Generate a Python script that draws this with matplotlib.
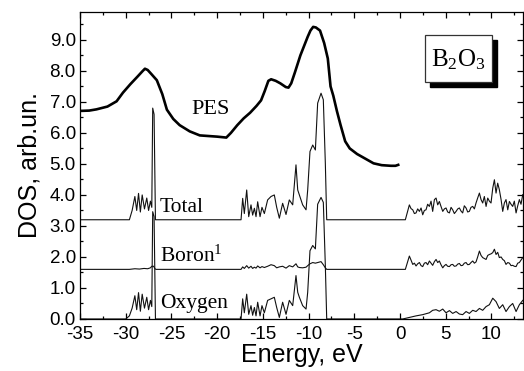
import matplotlib
matplotlib.use('Agg')
import matplotlib.pyplot as plt
from matplotlib.patches import Rectangle
from matplotlib.ticker import MultipleLocator, FormatStrFormatter

plt.rcParams['axes.unicode_minus'] = False
plt.rcParams['mathtext.fontset'] = 'custom'
plt.rcParams['mathtext.rm'] = 'Liberation Serif'
plt.rcParams['mathtext.it'] = 'Liberation Serif'

# PES spectrum
e_pes = [-35.0, -34.0, -33.2, -32.0, -31.0, -30.3, -29.5, -28.7, -28.2, -27.9, -27.6, -27.2,
         -26.6, -26.0, -25.5, -24.8, -24.1, -23.0, -21.9, -20.0, -19.0, -18.5, -17.8, -17.1,
         -16.4, -15.7, -15.2, -14.8, -14.4, -14.1, -13.6, -13.1, -12.5, -12.2, -11.9,
         -11.5, -10.9, -10.5, -10.1, -9.8, -9.5, -9.2, -8.75, -8.3, -7.9, -7.6, -7.3, -6.9,
         -6.5, -6.0, -5.5, -4.7, -3.8, -2.9, -2.0, -1.0, -0.5, -0.2]
pes = [6.71, 6.72, 6.76, 6.85, 7.02, 7.3, 7.57, 7.82, 7.98, 8.07, 8.03, 7.9,
       7.7, 7.25, 6.75, 6.45, 6.25, 6.05, 5.92, 5.88, 5.85, 6.0, 6.25, 6.47,
       6.65, 6.87, 7.05, 7.35, 7.68, 7.73, 7.68, 7.6, 7.48, 7.46, 7.6,
       7.95, 8.5, 8.8, 9.1, 9.3, 9.42, 9.4, 9.3, 8.9, 8.4, 7.5, 7.2, 6.7,
       6.25, 5.73, 5.5, 5.32, 5.17, 5.02, 4.96, 4.94, 4.94, 4.97]

# shared energies of the valence (upper) band
e_vb = [-17.39, -17.21, -17.03, -16.77, -16.55, -16.30, -16.12, -15.93, -15.75, -15.57,
        -15.31, -15.10, -14.84, -14.48, -14.11, -13.75, -13.49, -13.20, -12.84, -12.47,
        -12.11, -11.74, -11.38, -11.19, -11.01, -10.65, -10.28, -10.10, -9.85, -9.55,
        -9.26, -9.01, -8.64, -8.39, -8.17, -8.02]
# shared energies of the conduction band
e_cb = [0.58, 1.02, 1.2, 1.39, 1.57, 1.75, 1.93, 2.12, 2.3, 2.48, 2.66, 2.84, 3.02, 3.21,
        3.39, 3.57, 3.76, 3.94, 4.12, 4.30, 4.48, 4.67, 4.85, 5.03, 5.21, 5.40, 5.58, 5.76,
        5.94, 6.13, 6.31, 6.49, 6.67, 6.85, 7.03, 7.22, 7.40, 7.58, 7.76, 7.95, 8.13, 8.31,
        8.49, 8.68, 8.86, 9.04, 9.22, 9.41, 9.59, 9.77, 9.95, 10.14, 10.32, 10.50, 10.68,
        10.86, 11.05, 11.23, 11.41, 11.59, 11.78, 11.96, 12.14, 12.32, 12.50, 12.69, 12.87,
        13.05, 13.23, 13.42]

# Total DOS
e_tot_low = [-35.0, -29.6, -29.3, -29.0, -28.8, -28.6, -28.4, -28.2, -27.95, -27.7, -27.5,
             -27.3, -27.15, -27.05, -26.9, -26.75]
tot_low = [0, 0, 0.3, 0.75, 0.3, 0.85, 0.25, 0.8, 0.35, 0.7, 0.3, 0.6, 0.4, 3.6, 3.4, 0]
tot_vb = [0, 0.69, 0.2, 0.96, 0.1, 0.48, 0.15, 0.37, 0.1, 0.58, 0.1, 0.4, 0.2, 0.64, 0.75,
          0.8, 0.4, 0.05, 0.53, 0.17, 0.64, 0.48, 1.77, 0.96, 0.8, 0.48, 0.32, 0.96, 2.2,
          2.41, 2.25, 3.76, 4.08, 3.87, 1.82, 0]
tot_cb = [0, 0.48, 0.36, 0.32, 0.2, 0.22, 0.35, 0.27, 0.38, 0.16, 0.3, 0.32, 0.5, 0.43,
          0.6, 0.27, 0.65, 0.7, 0.48, 0.59, 0.43, 0.27, 0.35, 0.38, 0.25, 0.22, 0.4, 0.32,
          0.2, 0.27, 0.35, 0.38, 0.28, 0.22, 0.45, 0.38, 0.25, 0.27, 0.4, 0.43, 0.35, 0.54,
          0.7, 0.86, 0.65, 0.54, 0.75, 0.43, 0.7, 0.6, 0.54, 1.02, 1.29, 0.86, 1.18, 0.97,
          0.65, 0.27, 0.54, 0.65, 0.32, 0.59, 0.5, 0.43, 0.6, 0.22, 0.45, 0.65, 0.5, 0.81]

# Boron partial DOS
e_bor_low = [-35.0, -29.6, -29.0, -28.5, -28.0, -27.6, -27.3, -27.15, -26.95, -26.8, -26.7]
bor_low = [0, 0, 0.02, 0.01, 0.03, 0.02, 0.05, 0.1, 0.1, 0.02, 0]
bor_vb = [0, 0.08, 0.03, 0.12, 0.04, 0.1, 0.03, 0.07, 0.04, 0.11, 0.05, 0.09, 0.06, 0.1,
          0.15, 0.12, 0.05, 0.08, 0.1, 0.04, 0.12, 0.08, 0.18, 0.08, 0.06, 0.05, 0.07, 0.12,
          0.18, 0.22, 0.2, 0.22, 0.25, 0.15, 0.05, 0]
bor_cb = [0, 0.43, 0.3, 0.16, 0.2, 0.11, 0.18, 0.22, 0.12, 0.09, 0.2, 0.22, 0.15, 0.27,
          0.2, 0.13, 0.25, 0.32, 0.22, 0.27, 0.15, 0.05, 0.12, 0.16, 0.1, 0.09, 0.15, 0.16,
          0.1, 0.11, 0.17, 0.19, 0.12, 0.13, 0.2, 0.22, 0.15, 0.16, 0.22, 0.27, 0.2, 0.24,
          0.4, 0.59, 0.45, 0.38, 0.35, 0.32, 0.45, 0.48, 0.5, 0.54, 0.65, 0.48, 0.55, 0.38,
          0.4, 0.32, 0.28, 0.16, 0.22, 0.2, 0.12, 0.13, 0.1, 0.09, 0.2, 0.22, 0.3, 0.38]

# Oxygen partial DOS
e_oxy_low = [-35.0, -30.0, -29.6, -29.3, -29.0, -28.8, -28.6, -28.4, -28.2, -27.95, -27.7,
             -27.5, -27.3, -27.15, -27.05, -26.9, -26.75]
oxy_low = [0, 0, 0.1, 0.35, 0.75, 0.3, 0.85, 0.25, 0.8, 0.35, 0.7, 0.3, 0.6, 0.4, 3.46, 3.3, 0]
oxy_vb = [0, 0.65, 0.2, 0.8, 0.15, 0.43, 0.12, 0.37, 0.1, 0.54, 0.1, 0.43, 0.2, 0.6, 0.65,
          0.7, 0.37, 0.05, 0.54, 0.15, 0.6, 0.43, 1.4, 0.86, 0.7, 0.43, 0.32, 0.86, 2.2,
          2.37, 2.26, 3.7, 3.92, 3.76, 1.72, 0]
e_oxy_cb = [0.29, 1.02, 1.75, 2.48, 3.21, 3.57, 3.94, 4.30, 4.67, 5.03, 5.40, 5.76, 6.13,
            6.49, 6.85, 7.22, 7.58, 7.95, 8.31, 8.68, 9.04, 9.41, 9.77, 10.14, 10.50, 10.86,
            11.23, 11.59, 11.96, 12.32, 12.69, 13.05, 13.42]
oxy_cb = [0, 0.05, 0.1, 0.14, 0.2, 0.28, 0.3, 0.25, 0.32, 0.2, 0.27, 0.18, 0.24, 0.16,
          0.14, 0.24, 0.18, 0.28, 0.24, 0.34, 0.28, 0.4, 0.46, 0.67, 0.56, 0.34, 0.46, 0.24,
          0.4, 0.5, 0.24, 0.46, 0.6]

offsets = {'Total': 3.2, 'Boron': 1.6, 'Oxygen': 0.0}

fig = plt.figure(figsize=(5.24, 3.71), dpi=100)
ax = fig.add_axes([0.1527, 0.1402, 0.8463, 0.8275])

e_tot = e_tot_low + e_vb + e_cb
d_tot = tot_low + tot_vb + tot_cb
e_bor = e_bor_low + e_vb + [-7.91] + e_cb
d_bor = bor_low + bor_vb + [0] + bor_cb
e_oxy = e_oxy_low + e_vb + e_oxy_cb
d_oxy = oxy_low + oxy_vb + oxy_cb

ax.plot(e_tot, [v + offsets['Total'] for v in d_tot], color='#111111', lw=0.8)
ax.plot(e_bor, [v + offsets['Boron'] for v in d_bor], color='#111111', lw=0.8)
ax.plot(e_oxy, [v + offsets['Oxygen'] for v in d_oxy], color='#111111', lw=0.8)
ax.plot(e_pes, pes, color='black', lw=1.9, solid_joinstyle='round')

ax.set_xlim(-35, 13.5)
ax.set_ylim(0, 9.9)
ax.xaxis.set_major_locator(MultipleLocator(5))
ax.xaxis.set_minor_locator(MultipleLocator(2.5))
ax.yaxis.set_major_locator(MultipleLocator(1))
ax.yaxis.set_minor_locator(MultipleLocator(0.5))
ax.yaxis.set_major_formatter(FormatStrFormatter('%.1f'))
ax.tick_params(which='both', direction='in', top=True, right=True, width=0.9)
ax.tick_params(which='major', length=4, labelsize=13.5, pad=3)
ax.tick_params(axis='x', which='major', pad=5)
ax.tick_params(which='minor', length=2.4)
for lab in ax.get_xticklabels() + ax.get_yticklabels():
    lab.set_family('Liberation Sans')
for s in ax.spines.values():
    s.set_linewidth(0.9)

ax.set_xlabel('Energy, eV', fontsize=18, family='Liberation Sans', labelpad=0)
ax.set_ylabel('DOS, arb.un.', fontsize=18, family='Liberation Sans', labelpad=6)

serif = 'Liberation Serif'
ax.text(-22.86, 6.61, 'PES', fontsize=16, family=serif)
ax.text(-26.25, 3.45, 'Total', fontsize=15.5, family=serif)
ax.text(-26.25, 1.84, 'Boron$^{\\mathregular{1}}$', fontsize=15.5, family=serif)
ax.text(-26.25, 0.35, 'Oxygen', fontsize=15.5, family=serif)

# compound label with drop shadow
ax.add_patch(Rectangle((0.789, 0.756), 0.152, 0.153, transform=ax.transAxes,
                       facecolor='black', edgecolor='black', zorder=4))
ax.add_patch(Rectangle((0.778, 0.772), 0.152, 0.153, transform=ax.transAxes,
                       facecolor='white', edgecolor='#333333', lw=0.9, zorder=5))
ax.text(0.854, 0.846, 'B$_{\\mathregular{2}}$O$_{\\mathregular{3}}$', transform=ax.transAxes,
        fontsize=18, family=serif, ha='center', va='center', zorder=6)

fig.savefig('out.png', dpi=100)
